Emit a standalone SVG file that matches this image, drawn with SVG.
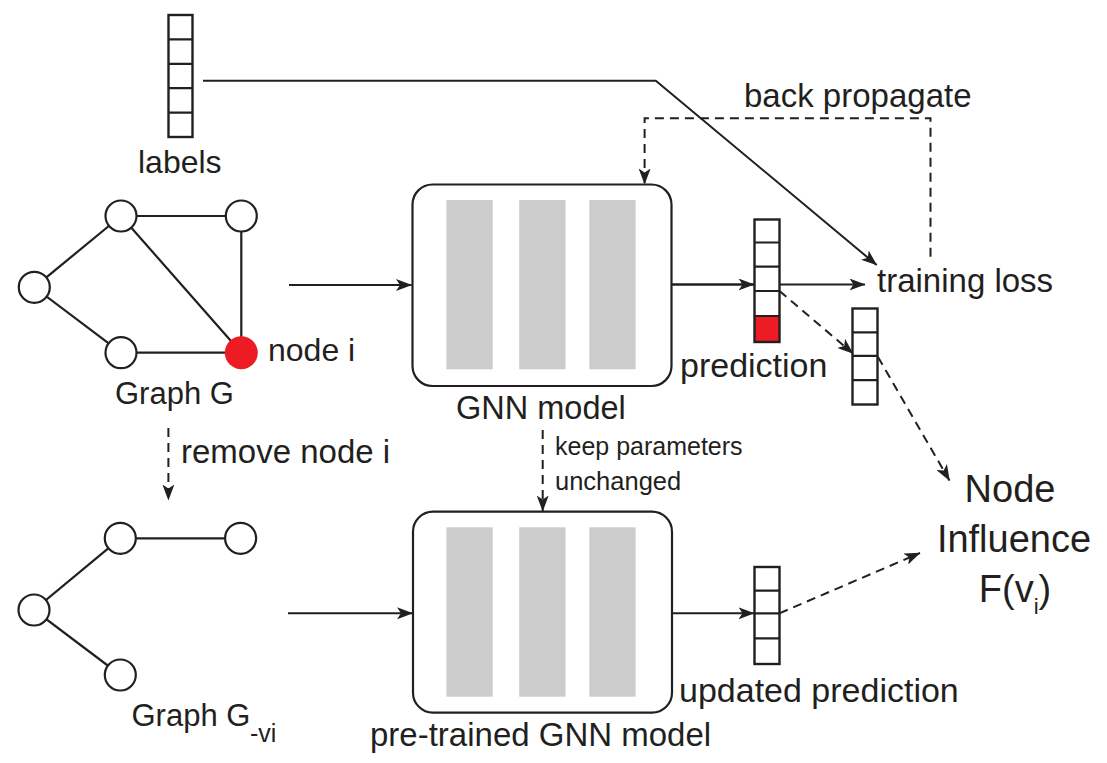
<svg xmlns="http://www.w3.org/2000/svg" width="1107" height="763" viewBox="0 0 1107 763">
<style>
text{font-family:"Liberation Sans",Arial,sans-serif;fill:#231f20}
.edge{stroke:#231f20;stroke-width:2.2;fill:none}
.gn{fill:#fff;stroke:#231f20;stroke-width:2.2}
.vec{fill:#fff;stroke:#231f20;stroke-width:2.4}
.cell{stroke:#231f20;stroke-width:2.2}
.box{fill:#fff;stroke:#231f20;stroke-width:2.2}
.bar{fill:#cccccc}
.conn{stroke:#231f20;stroke-width:2;fill:none}
.arr{marker-end:url(#ah)}
.dash{stroke-dasharray:9,6}
</style>
<defs>
<marker id="ah" viewBox="0 0 16 12" refX="15.5" refY="6" markerWidth="16" markerHeight="12" orient="auto" markerUnits="userSpaceOnUse">
<path d="M0,0 L16,6 L0,12 L4,6 z" fill="#231f20"/>
</marker>
</defs>

<g id="connectors">
<path class="conn" d="M203,80.7 L655.8,80.7 L876.7,265" marker-end="url(#ah)"/>
<path class="conn arr" d="M289,285 L411.5,285"/>
<path class="conn arr" d="M671.5,284.5 L754,284.5" style="stroke-width:2.6"/>
<path class="conn arr" d="M779.5,284.5 L865,284.5"/>
<path class="conn arr dash" d="M779.5,291 L853,353.5"/>
<path class="conn arr dash" d="M878,357 L949.5,480.5"/>
<path class="conn arr dash" d="M930.5,256.7 V118.3 H644.6 V184"/>
<path class="conn arr dash" d="M168.4,428 V500"/>
<path class="conn arr dash" d="M542.7,430 V511"/>
<path class="conn arr" d="M288,613.3 L412.5,613.3"/>
<path class="conn arr" d="M672,613.3 L754,613.3"/>
<path class="conn arr dash" d="M779.4,613.3 L920,553"/>
</g>

<g id="labels-vector">
<rect class="vec" x="168.5" y="15" width="24" height="122"/>
<path class="cell" d="M168.5,39.4 H192.5 M168.5,63.8 H192.5 M168.5,88.2 H192.5 M168.5,112.6 H192.5"/>
<text x="138" y="173" font-size="32">labels</text>
</g>

<g id="graph-g">
<path class="edge" d="M121,216 L241.3,216 M121,216 L34.3,287.3 L121,352.7 L241.3,352.7 M121,216 L241.3,352.7 M241.3,216 L241.3,352.7"/>
<circle class="gn" cx="121" cy="216" r="15.5"/>
<circle class="gn" cx="241.3" cy="216" r="15.5"/>
<circle class="gn" cx="34.3" cy="287.3" r="15.5"/>
<circle class="gn" cx="121" cy="352.7" r="15.5"/>
<circle cx="241.3" cy="352.7" r="16.5" fill="#ed1c24"/>
<text x="268" y="361" font-size="32">node i</text>
<text x="115" y="404" font-size="31">Graph G</text>
</g>

<g id="gnn-model">
<rect class="box" x="412.5" y="184.5" width="259" height="201.5" rx="20"/>
<rect class="bar" x="446.4" y="200" width="46.3" height="169.3"/>
<rect class="bar" x="519.2" y="200" width="46.3" height="169.3"/>
<rect class="bar" x="589.3" y="200" width="46.3" height="169.3"/>
<text x="456" y="419" font-size="32.5">GNN model</text>
</g>

<g id="prediction">
<rect x="754.5" y="316" width="25" height="26" fill="#ed1c24"/>
<rect x="754.5" y="219.5" width="25" height="122.5" fill="none" stroke="#231f20" stroke-width="2.4"/>
<path class="cell" d="M754.5,242.5 H779.5 M754.5,266.7 H779.5 M754.5,291 H779.5 M754.5,316 H779.5"/>
<text x="680" y="377" font-size="34">prediction</text>
</g>

<g id="training-loss">
<text x="877" y="292" font-size="33">training loss</text>
<text x="744" y="107" font-size="33">back propagate</text>
</g>

<g id="vector-2">
<rect class="vec" x="852.5" y="308.5" width="25" height="96"/>
<path class="cell" d="M852.5,332.3 H877.5 M852.5,355.9 H877.5 M852.5,380.2 H877.5"/>
</g>

<g id="remove-label">
<text x="181" y="463" font-size="33">remove node i</text>
<text x="555" y="455" font-size="25">keep parameters</text>
<text x="555" y="490" font-size="25.5">unchanged</text>
</g>

<g id="graph-g-vi">
<path class="edge" d="M120.3,538.3 L240.6,538.3 M120.3,538.3 L34,610 L120.3,675"/>
<circle class="gn" cx="120.3" cy="538.3" r="15.5"/>
<circle class="gn" cx="240.6" cy="538.3" r="15.5"/>
<circle class="gn" cx="34" cy="610" r="15.5"/>
<circle class="gn" cx="120.3" cy="675" r="15.5"/>
<text x="131.5" y="726" font-size="31">Graph G<tspan x="250" y="742" font-size="25">-vi</tspan></text>
</g>

<g id="pretrained-gnn">
<rect class="box" x="413" y="511.7" width="259" height="201" rx="20"/>
<rect class="bar" x="446.4" y="527.3" width="46.3" height="169.4"/>
<rect class="bar" x="519.2" y="527.3" width="46.3" height="169.4"/>
<rect class="bar" x="589.3" y="527.3" width="46.3" height="169.4"/>
<text x="370" y="746" font-size="33">pre-trained GNN model</text>
</g>

<g id="updated-prediction">
<rect class="vec" x="754.5" y="567" width="25" height="97"/>
<path class="cell" d="M754.5,590.7 H779.5 M754.5,613.3 H779.5 M754.5,638.3 H779.5"/>
<text x="679" y="702" font-size="34">updated prediction</text>
</g>

<g id="node-influence">
<text x="1010" y="502" font-size="38" text-anchor="middle">Node</text>
<text x="1014" y="552" font-size="38" text-anchor="middle">Influence</text>
<text x="1015" y="602" font-size="38" text-anchor="middle">F(v<tspan font-size="22" dy="12">i</tspan><tspan dy="-12">)</tspan></text>
</g>
</svg>
